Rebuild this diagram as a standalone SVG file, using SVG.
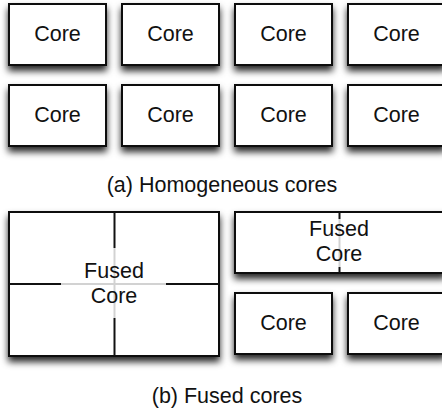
<svg xmlns="http://www.w3.org/2000/svg" width="442" height="413" viewBox="0 0 442 413">
<defs>
<filter id="sh" x="-20%" y="-20%" width="140%" height="160%">
<feDropShadow dx="0" dy="5" stdDeviation="3.5" flood-color="#000" flood-opacity="0.85"/>
</filter>
</defs>
<style>
.box{fill:#fff;stroke:#111;stroke-width:2;filter:url(#sh)}
.t{font-family:"Liberation Sans",Arial,sans-serif;font-size:21.5px;fill:#111;text-anchor:middle}
.blk{stroke:#111;stroke-width:2;fill:none}
.gry{stroke:#d2d2d2;stroke-width:2;fill:none}
</style>
<rect width="442" height="413" fill="#fff"/>
<g id="core-a1"><rect class="box" x="9" y="4" width="97" height="61"/><text class="t" x="57.5" y="41">Core</text></g>
<g id="core-a2"><rect class="box" x="122" y="4" width="97" height="61"/><text class="t" x="170.5" y="41">Core</text></g>
<g id="core-a3"><rect class="box" x="235" y="4" width="97" height="61"/><text class="t" x="283.5" y="41">Core</text></g>
<g id="core-a4"><rect class="box" x="348" y="4" width="97" height="61"/><text class="t" x="396.5" y="41">Core</text></g>
<g id="core-a5"><rect class="box" x="9" y="85" width="97" height="61"/><text class="t" x="57.5" y="122">Core</text></g>
<g id="core-a6"><rect class="box" x="122" y="85" width="97" height="61"/><text class="t" x="170.5" y="122">Core</text></g>
<g id="core-a7"><rect class="box" x="235" y="85" width="97" height="61"/><text class="t" x="283.5" y="122">Core</text></g>
<g id="core-a8"><rect class="box" x="348" y="85" width="97" height="61"/><text class="t" x="396.5" y="122">Core</text></g>
<g id="caption-a"><text class="t" x="222" y="192">(a) Homogeneous cores</text></g>
<g id="fused-big">
<rect class="box" x="9" y="212" width="210" height="144"/>
<line class="gry" x1="61" y1="284" x2="166" y2="284"/>
<line class="gry" x1="114.5" y1="248" x2="114.5" y2="318"/>
<line class="blk" x1="9" y1="284" x2="61" y2="284"/>
<line class="blk" x1="166" y1="284" x2="219" y2="284"/>
<line class="blk" x1="114.5" y1="212" x2="114.5" y2="248"/>
<line class="blk" x1="114.5" y1="318" x2="114.5" y2="356"/>
<text class="t" x="114" y="278">Fused</text>
<text class="t" x="114" y="303">Core</text>
</g>
<g id="fused-small">
<rect class="box" x="235" y="212" width="210" height="61"/>
<line class="gry" x1="339.5" y1="219" x2="339.5" y2="267"/>
<line class="blk" x1="339.5" y1="212" x2="339.5" y2="219"/>
<line class="blk" x1="339.5" y1="267" x2="339.5" y2="273"/>
<text class="t" x="339" y="236">Fused</text>
<text class="t" x="339" y="261">Core</text>
</g>
<g id="core-b1"><rect class="box" x="235" y="293" width="97" height="61"/><text class="t" x="283.5" y="330">Core</text></g>
<g id="core-b2"><rect class="box" x="348" y="293" width="97" height="61"/><text class="t" x="396.5" y="330">Core</text></g>
<g id="caption-b"><text class="t" x="227" y="403">(b) Fused cores</text></g>
<g id="connectors"/>
</svg>
